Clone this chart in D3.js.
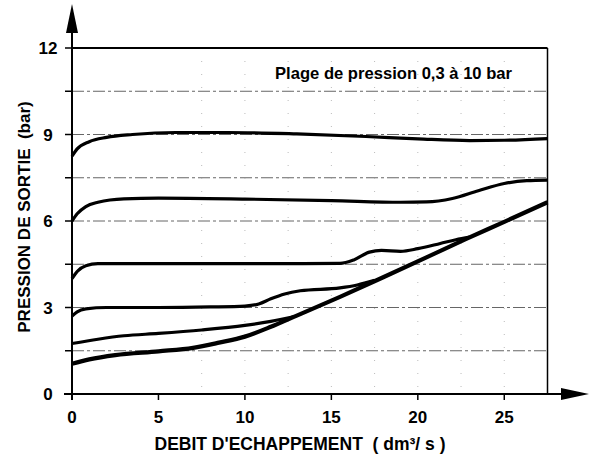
<!DOCTYPE html>
<html lang="fr">
  <head>
    <meta charset="UTF-8" />
    <script src="https://d3js.org/d3.v7.min.js"></script>
    <title>Pression de sortie / débit d'échappement</title>
    <style type="text/css">
      body { margin: 0; background: #fff; }
      text { font-family: 'Liberation Sans', Arial, sans-serif; font-weight: bold; fill: #000; }
    </style>
  </head>
  <body>
    <svg width="595" height="458"></svg>
  </body>
  <script type="text/javascript">
    // ticks
    const xTicks = [0, 5, 10, 15, 20, 25];
    const yTicks = [0, 3, 6, 9, 12];
    const yMinorTicks = [1.5, 4.5, 7.5, 10.5];
    const hGrid = [1.5, 3, 4.5, 6, 7.5, 9, 10.5];
    const vGrid = [7.5, 10, 12.5, 15, 17.5, 20, 22.5, 25];

    // curves: [débit dm3/s, pression bar]
    const curve9 = [[0, 8.25], [0.3, 8.5], [1, 8.75], [2, 8.9], [3.5, 9.0], [6, 9.07], [9, 9.07], [13, 9.02], [17, 8.93], [20, 8.85], [23, 8.79], [25, 8.8], [27.5, 8.86]];
    const curve7 = [[0, 6.0], [0.3, 6.25], [0.8, 6.5], [1.5, 6.65], [3, 6.77], [5, 6.79], [10, 6.76], [15, 6.71], [19, 6.65], [20.5, 6.66], [22, 6.78], [23.5, 7.05], [25, 7.3], [26.3, 7.4], [27.5, 7.42]];
    const curve45 = [[0, 4.0], [0.3, 4.25], [0.8, 4.45], [1.5, 4.52], [8, 4.52], [15.5, 4.53], [16.3, 4.65], [17.2, 4.92], [17.9, 4.98], [19, 4.95], [20, 5.04], [21.3, 5.22], [22.2, 5.35], [23, 5.44]];
    const curve3 = [[0, 2.7], [0.3, 2.85], [0.8, 2.95], [2, 3.0], [5, 3.0], [8, 3.02], [10, 3.05], [10.8, 3.12], [11.5, 3.3], [12.3, 3.47], [13.2, 3.58], [15.5, 3.68], [16.5, 3.78], [17.5, 3.94]];
    const curve18 = [[0, 1.75], [1.5, 1.9], [3, 2.02], [5, 2.1], [7.5, 2.22], [10, 2.38], [11.5, 2.52], [12.8, 2.68]];
    const curve1 = [[0, 1.05], [1, 1.2], [2.5, 1.35], [5, 1.48], [7, 1.6], [8.5, 1.78], [10, 1.99], [11.5, 2.33], [13, 2.72], [15.5, 3.37], [18, 4.05], [20.5, 4.74], [22.8, 5.38], [25, 5.97], [27.5, 6.65]];

    const thinCurves = [curve9, curve7, curve45, curve3, curve18];

    const svg = d3.select('svg');

    const x = d3.scaleLinear().domain([0, 27.5]).range([72, 547.5]);
    const y = d3.scaleLinear().domain([0, 12]).range([394, 48]);

    // grid
    svg.append('g')
      .selectAll('line')
      .data(hGrid)
      .join('line')
      .attr('x1', x(0))
      .attr('x2', x(27.5))
      .attr('y1', (d) => y(d))
      .attr('y2', (d) => y(d))
      .attr('stroke', '#666')
      .attr('stroke-width', 1)
      .attr('stroke-dasharray', '12,3,3,3');

    svg.append('g')
      .selectAll('line')
      .data(vGrid)
      .join('line')
      .attr('x1', (d) => x(d))
      .attr('x2', (d) => x(d))
      .attr('y1', y(12))
      .attr('y2', y(0))
      .attr('stroke', '#bbb')
      .attr('stroke-width', 1)
      .attr('stroke-dasharray', '1,12');

    // frame (top and right)
    svg.append('line')
      .attr('x1', x(0)).attr('x2', x(27.5))
      .attr('y1', y(12)).attr('y2', y(12))
      .attr('stroke', '#000').attr('stroke-width', 2);
    svg.append('line')
      .attr('x1', x(27.5)).attr('x2', x(27.5))
      .attr('y1', y(12)).attr('y2', y(0))
      .attr('stroke', '#000').attr('stroke-width', 1.5);

    // axes
    svg.append('line')
      .attr('x1', x(0) - 8).attr('x2', 570)
      .attr('y1', y(0)).attr('y2', y(0))
      .attr('stroke', '#000').attr('stroke-width', 2);
    svg.append('line')
      .attr('x1', x(0)).attr('x2', x(0))
      .attr('y1', y(0) + 6).attr('y2', 20)
      .attr('stroke', '#000').attr('stroke-width', 2);
    svg.append('path')
      .attr('d', `M${x(0)},4 L${x(0) - 6},33 L${x(0) + 6},33 Z`)
      .attr('fill', '#000');
    svg.append('path')
      .attr('d', `M589,${y(0)} L561,${y(0) - 6} L561,${y(0) + 6} Z`)
      .attr('fill', '#000');

    // ticks
    svg.append('g')
      .selectAll('line')
      .data(yTicks.concat(yMinorTicks))
      .join('line')
      .attr('x1', x(0) - 7)
      .attr('x2', x(0))
      .attr('y1', (d) => y(d))
      .attr('y2', (d) => y(d))
      .attr('stroke', '#000')
      .attr('stroke-width', 1.5);
    svg.append('g')
      .selectAll('line')
      .data(xTicks.slice(1))
      .join('line')
      .attr('x1', (d) => x(d))
      .attr('x2', (d) => x(d))
      .attr('y1', y(0))
      .attr('y2', y(0) + 6)
      .attr('stroke', '#000')
      .attr('stroke-width', 1.5);

    // tick labels
    svg.append('g')
      .selectAll('text')
      .data(yTicks)
      .join('text')
      .attr('x', 48)
      .attr('y', (d) => y(d) + 6)
      .attr('text-anchor', 'middle')
      .attr('font-size', '17px')
      .text((d) => d);
    svg.append('g')
      .selectAll('text')
      .data(xTicks)
      .join('text')
      .attr('x', (d) => x(d))
      .attr('y', 423)
      .attr('text-anchor', 'middle')
      .attr('font-size', '17px')
      .text((d) => d);

    // curves
    const line = d3.line()
      .x((d) => x(d[0]))
      .y((d) => y(d[1]))
      .curve(d3.curveMonotoneX);

    svg.append('g')
      .selectAll('path')
      .data(thinCurves)
      .join('path')
      .attr('d', line)
      .attr('fill', 'none')
      .attr('stroke', '#000')
      .attr('stroke-width', 3.2);

    svg.append('path')
      .datum(curve1)
      .attr('d', line)
      .attr('fill', 'none')
      .attr('stroke', '#000')
      .attr('stroke-width', 4.2);

    // labels
    svg.append('text')
      .attr('x', 275)
      .attr('y', 79)
      .attr('font-size', '16.6px')
      .text('Plage de pression 0,3 à 10 bar');

    svg.append('text')
      .attr('x', 300)
      .attr('y', 450)
      .attr('text-anchor', 'middle')
      .attr('font-size', '17.5px')
      .attr('xml:space', 'preserve')
      .text("DEBIT D'ECHAPPEMENT  ( dm³/ s )");

    svg.append('text')
      .attr('transform', 'translate(30, 217) rotate(-90)')
      .attr('text-anchor', 'middle')
      .attr('font-size', '17px')
      .attr('xml:space', 'preserve')
      .text('PRESSION DE SORTIE  (bar)');
  </script>
</html>
